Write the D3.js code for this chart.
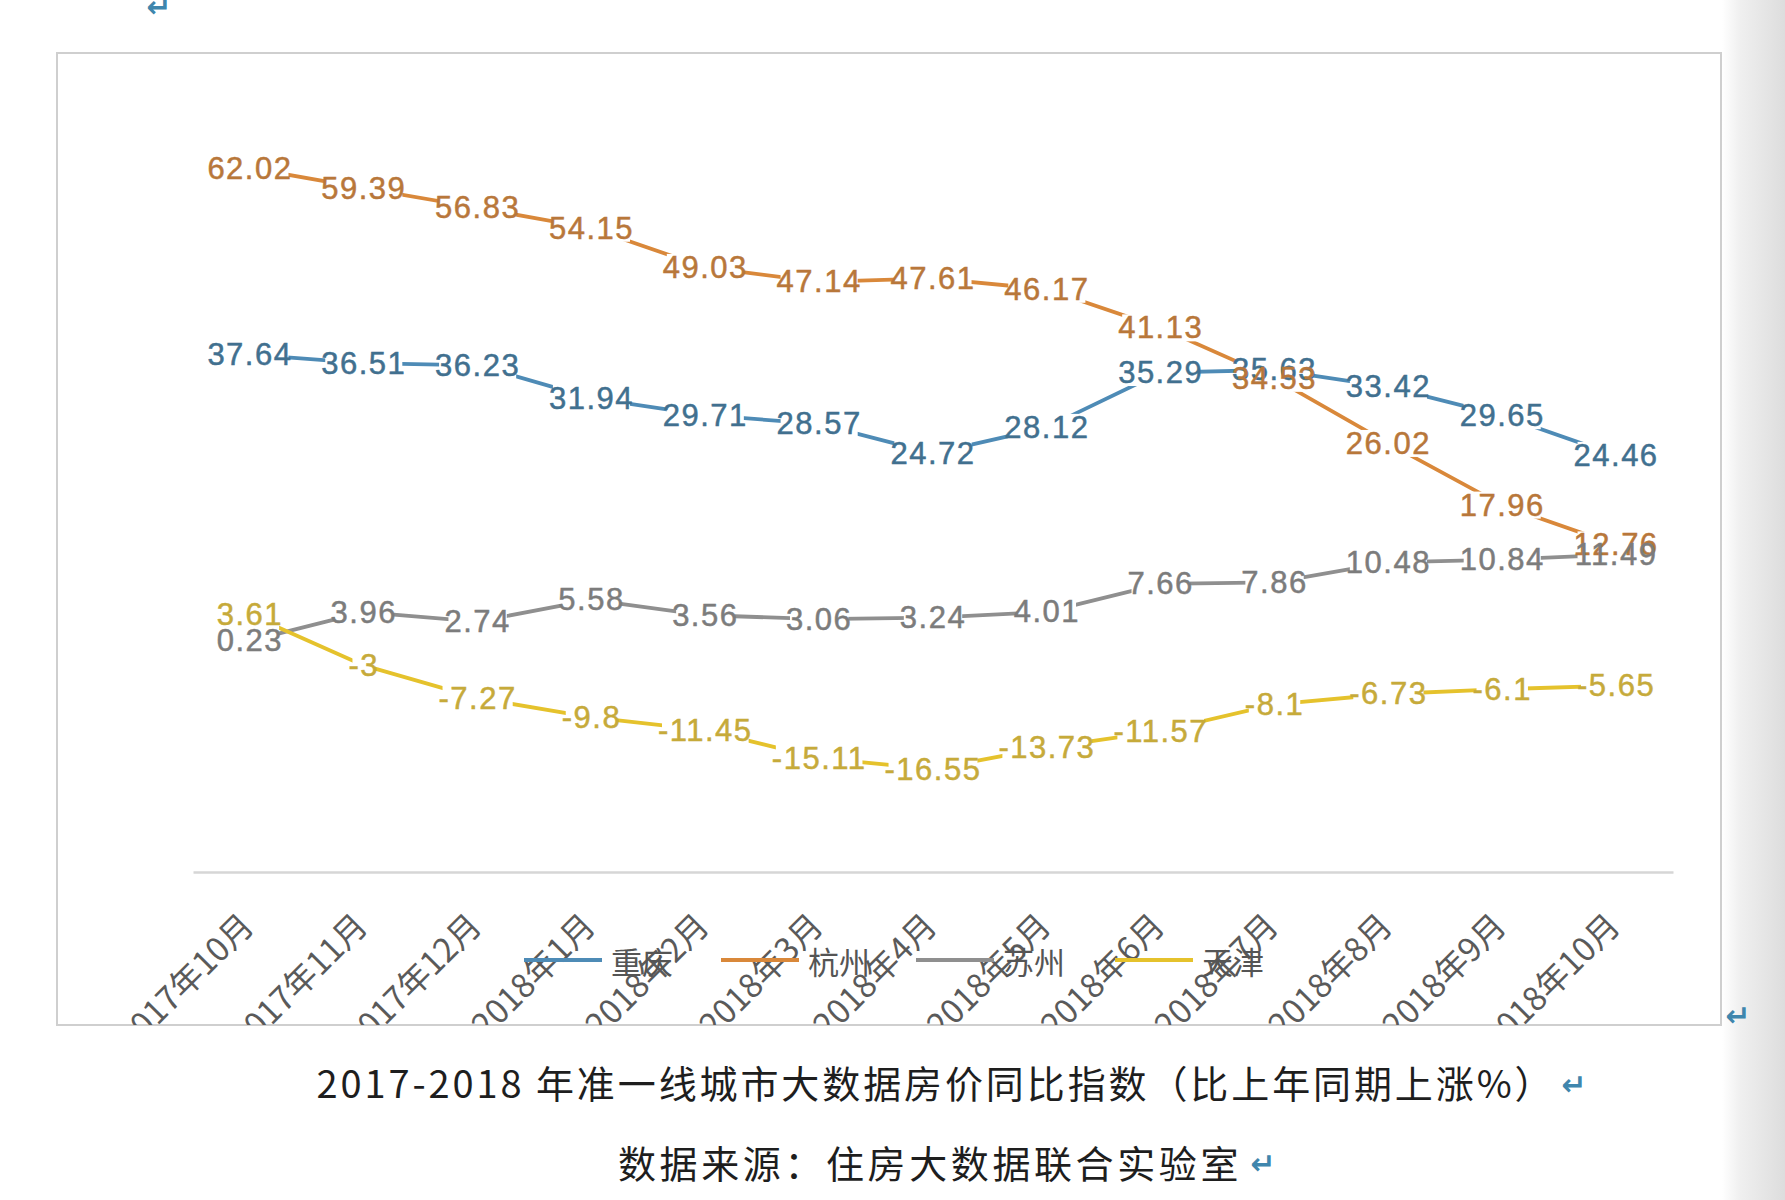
<!DOCTYPE html>
<html>
<head>
<meta charset="utf-8">
<script src="https://cdn.jsdelivr.net/npm/d3@7"></script>
<style>
  html, body { margin: 0; padding: 0; background: #ffffff; }
  svg { display: block; }
</style>
</head>
<body>
<script>
// ---------------- data ----------------
const categories = ["2017年10月","2017年11月","2017年12月","2018年1月","2018年2月","2018年3月","2018年4月","2018年5月","2018年6月","2018年7月","2018年8月","2018年9月","2018年10月"];
const seriesNames = ["重庆","杭州","苏州","天津"];
const chongqing = [37.64,36.51,36.23,31.94,29.71,28.57,24.72,28.12,35.29,35.63,33.42,29.65,24.46];
const hangzhou  = [62.02,59.39,56.83,54.15,49.03,47.14,47.61,46.17,41.13,34.53,26.02,17.96,12.76];
const suzhou    = [0.23,3.96,2.74,5.58,3.56,3.06,3.24,4.01,7.66,7.86,10.48,10.84,11.49];
const tianjin   = [3.61,-3,-7.27,-9.8,-11.45,-15.11,-16.55,-13.73,-11.57,-8.1,-6.73,-6.1,-5.65];
const yDomain = [-30, 70];
const titleText = "2017-2018 年准一线城市大数据房价同比指数（比上年同期上涨%）";
const sourceText = "数据来源：住房大数据联合实验室";

// ---------------- styles ----------------
const lineColors  = ["#4e8bb6", "#d9883a", "#8f8f8f", "#e5c22c"];
const labelColors = ["#41708f", "#b8773a", "#7c7c7c", "#c6aa3a"];
const allSeries = [chongqing, hangzhou, suzhou, tianjin];

const W = 1785, H = 1200;
const svg = d3.select("body").append("svg").attr("width", W).attr("height", H);

// right-edge gray gradient (page edge)
const defs = svg.append("defs");
const grad = defs.append("linearGradient").attr("id", "edge").attr("x1", "0").attr("x2", "1");
grad.append("stop").attr("offset", "0").attr("stop-color", "#ffffff");
grad.append("stop").attr("offset", "0.3").attr("stop-color", "#efefef");
grad.append("stop").attr("offset", "1").attr("stop-color", "#dddddd");
svg.append("rect").attr("x", 1722).attr("y", 0).attr("width", 63).attr("height", H).attr("fill", "url(#edge)");

// chart frame
const frame = {x: 57, y: 53, w: 1664, h: 972};
defs.append("clipPath").attr("id", "frameClip")
  .append("rect").attr("x", frame.x).attr("y", frame.y).attr("width", frame.w).attr("height", frame.h);
svg.append("rect").attr("x", frame.x).attr("y", frame.y).attr("width", frame.w).attr("height", frame.h)
  .attr("fill", "#ffffff").attr("stroke", "#cfcfcf").attr("stroke-width", 2);

// scales
const x = d3.scaleBand().domain(categories).range([193, 1673]).padding(0);
const cx = c => x(c) + x.bandwidth() / 2;
const y = d3.scaleLinear().domain(yDomain).range([872, 107]);

// category axis
const axisG = svg.append("g").attr("transform", `translate(0,${y(yDomain[0])})`)
  .call(d3.axisBottom(x).tickSize(0).tickFormat(""));
axisG.select(".domain").attr("stroke", "#d6d6d6").attr("stroke-width", 2.5);

// rotated category labels (clipped by frame)
const xl = svg.append("g").attr("clip-path", "url(#frameClip)");
xl.selectAll("text").data(categories).enter().append("text")
  .attr("transform", d => `translate(${cx(d) - 4},${918}) rotate(-45)`)
  .attr("text-anchor", "end")
  .attr("dominant-baseline", "central")
  .attr("font-family", "'Noto Sans CJK SC', 'Noto Sans', sans-serif")
  .attr("font-size", 33)
  .attr("fill", "#5a5a5a")
  .text(d => d);

// legend
const legend = svg.append("g");
const legendX = [524, 721, 916, 1115];
seriesNames.forEach((name, i) => {
  legend.append("line").attr("x1", legendX[i]).attr("x2", legendX[i] + 78)
    .attr("y1", 960).attr("y2", 960)
    .attr("stroke", lineColors[i]).attr("stroke-width", 4);
  legend.append("text").attr("x", legendX[i] + 87).attr("y", 960)
    .attr("dominant-baseline", "central")
    .attr("font-family", "'Noto Sans CJK SC', sans-serif")
    .attr("font-size", 31).attr("fill", "#555555")
    .text(name);
});

// lines
const line = d3.line().x((d, i) => cx(categories[i])).y(d => y(d));
const linesG = svg.append("g");
allSeries.forEach((s, i) => {
  linesG.append("path").datum(s).attr("d", line)
    .attr("fill", "none").attr("stroke", lineColors[i]).attr("stroke-width", 3.8)
    .attr("stroke-linejoin", "round");
});

// data labels: background rects, then texts
const rectG = svg.append("g");
const textG = svg.append("g");
const labelNodes = [];
allSeries.forEach((s, si) => {
  s.forEach((v, i) => {
    const t = textG.append("text")
      .attr("x", cx(categories[i])).attr("y", y(v))
      .attr("text-anchor", "middle").attr("dominant-baseline", "central")
      .attr("font-family", "'Liberation Sans', Arial, sans-serif")
      .attr("font-size", 31).attr("letter-spacing", 1.5)
      .attr("fill", labelColors[si])
      .attr("stroke", labelColors[si]).attr("stroke-width", 0.5)
      .text(String(v));
    labelNodes.push(t);
  });
});
labelNodes.forEach(t => {
  const b = t.node().getBBox();
  rectG.append("rect")
    .attr("x", b.x + 4).attr("y", b.y + 4)
    .attr("width", Math.max(0, b.width - 8)).attr("height", Math.max(0, b.height - 8))
    .attr("fill", "#ffffff");
});

// caption texts
const cap = svg.append("g").attr("font-family", "'Noto Sans CJK SC', sans-serif").attr("fill", "#1e1e1e");
cap.append("text").attr("x", 936).attr("y", 1081).attr("text-anchor", "middle")
  .attr("dominant-baseline", "central").attr("font-size", 38).attr("letter-spacing", 2.9)
  .text(titleText);
cap.append("text").attr("x", 930).attr("y", 1161).attr("text-anchor", "middle")
  .attr("dominant-baseline", "central").attr("font-size", 38).attr("letter-spacing", 3.6)
  .text(sourceText);

// paragraph return marks
const marks = [[159, 6], [1574, 1084], [1263, 1163], [1738, 1015]];
svg.append("g").selectAll("text").data(marks).enter().append("text")
  .attr("x", d => d[0]).attr("y", d => d[1])
  .attr("text-anchor", "middle").attr("dominant-baseline", "central")
  .attr("font-family", "'DejaVu Sans', sans-serif").attr("font-size", 30)
  .attr("font-weight", "bold")
  .attr("fill", "#3f86ad")
  .text("↵");
</script>
</body>
</html>
